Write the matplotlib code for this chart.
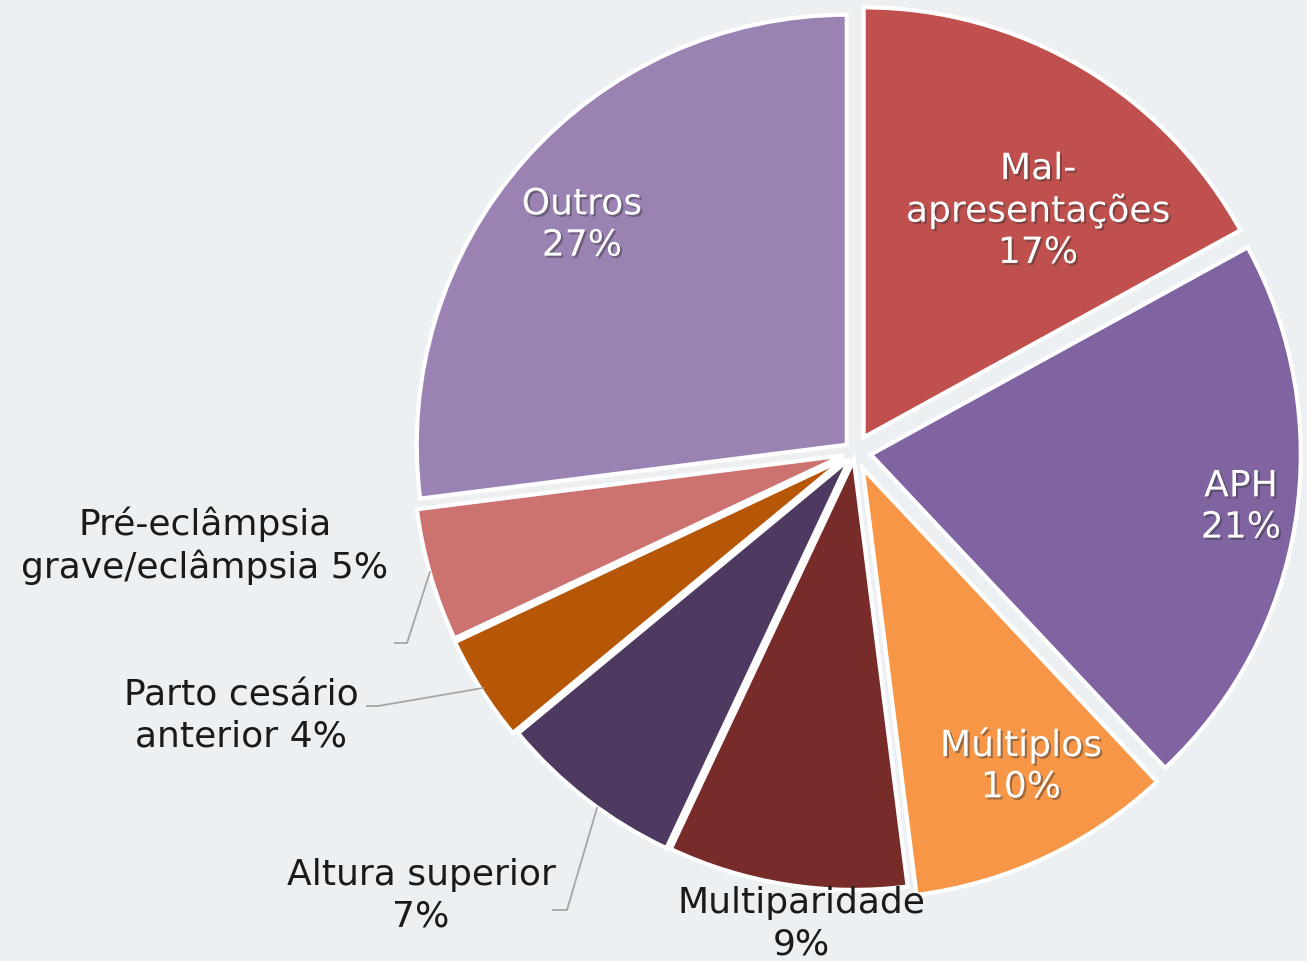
import matplotlib
matplotlib.use("Agg")
import matplotlib.pyplot as plt
import matplotlib.patheffects as pe

# ---- data ----
categories = ["Mal-\napresentações", "APH", "Múltiplos", "Multiparidade",
              "Altura superior", "Parto cesário\nanterior", "Pré-eclâmpsia\ngrave/eclâmpsia", "Outros"]
values = [17, 21, 10, 9, 7, 4, 5, 27]
colors = ["#C0504D", "#8064A2", "#F79646", "#772C2A",
          "#4E3A60", "#B65708", "#CC7270", "#9A82B3"]

# ---- layout ----
W, H = 1307, 961
BG = "#ECF0F3"
fig = plt.figure(figsize=(W / 100, H / 100), dpi=100, facecolor=BG)
ax = fig.add_axes([0, 0, 1, 1])
ax.set_facecolor(BG)

cx, cy = 855, H - 452
R = 430
explode = [17, 16, 18, 8, 9, 13, 12, 11]

wedges, _ = ax.pie(values, colors=colors, startangle=90, counterclock=False,
                   center=(cx, cy), radius=R, explode=explode,
                   wedgeprops=dict(edgecolor="white", linewidth=3),
                   frame=True)
ax.set_xlim(0, W)
ax.set_ylim(0, H)
ax.set_aspect("equal")
ax.axis("off")

fs = 26
ls = 1.27
shadow = [pe.SimplePatchShadow(offset=(1.5, -1.5), alpha=0.45, shadow_rgbFace="#333333"), pe.Normal()]

total = sum(values)
pct = [f"{round(v * 100 / total)}%" for v in values]

inside = {0: (1038, 211), 1: (1241, 507), 2: (1021, 766), 7: (582, 225)}
for i, (x, y) in inside.items():
    ax.text(x, H - y, f"{categories[i]}\n{pct[i]}", ha="center", va="center",
            color="white", fontsize=fs, linespacing=ls, path_effects=shadow)

outside = {6: (205, 546), 5: (241, 716), 4: (421, 896), 3: (801, 924)}
for i, (x, y) in outside.items():
    if i in (5, 6):
        txt = f"{categories[i]} {pct[i]}"
    else:
        txt = f"{categories[i]}\n{pct[i]}"
    ax.text(x, H - y, txt, ha="center", va="center", color="#1A1A1A",
            fontsize=fs, linespacing=ls)

# leader lines
lc = "#A5A5A5"
for pts in [[(430, 572), (407, 643), (395, 643)],
            [(483, 688), (378, 706), (367, 706)],
            [(597, 808), (567, 910), (553, 910)]]:
    xs = [p[0] for p in pts]
    ys = [H - p[1] for p in pts]
    ax.plot(xs, ys, color=lc, lw=1.3)

fig.savefig("out.png", dpi=100, facecolor=BG)
